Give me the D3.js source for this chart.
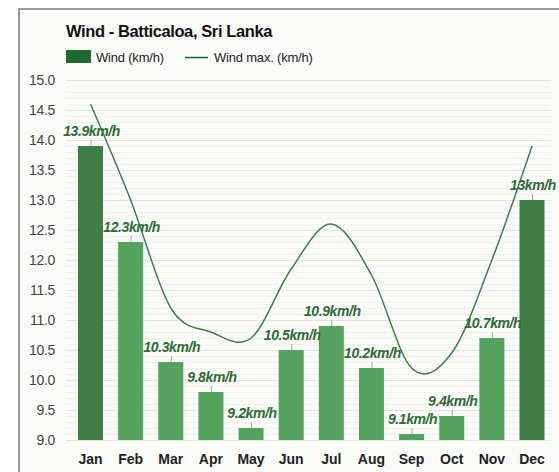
<!DOCTYPE html>
<html><head><meta charset="utf-8">
<script src="https://cdn.jsdelivr.net/npm/d3@7"></script>
<style>body{margin:0;background:#fff}svg{display:block;font-family:"Liberation Sans",Arial,sans-serif}</style>
</head><body>
<svg id="c" width="559" height="472"></svg>
<script>
const months = ["Jan","Feb","Mar","Apr","May","Jun","Jul","Aug","Sep","Oct","Nov","Dec"];
const wind = [13.9,12.3,10.3,9.8,9.2,10.5,10.9,10.2,9.1,9.4,10.7,13];
const windMax = [14.6,13.0,11.2,10.8,10.7,11.85,12.6,11.75,10.2,10.45,12.0,13.9];
const yTicks = [9.0,9.5,10.0,10.5,11.0,11.5,12.0,12.5,13.0,13.5,14.0,14.5,15.0];
const darkMonths = ["Jan","Dec"];

const svg = d3.select("#c");
// frame
svg.append("rect").attr("x",19).attr("y",9).attr("width",560).attr("height",480)
  .attr("fill","#fbfcfa").attr("stroke","#9a9a9a").attr("stroke-width",2);

const y = d3.scaleLinear().domain([9,15]).range([440,80]);
const x = d3.scalePoint().domain(months).range([90.5,532]);
const bw = 25;

// minor grid
const minor = d3.range(9,15.001,0.1);
svg.append("g").selectAll("line").data(minor).join("line")
  .attr("x1",66).attr("x2",551).attr("y1",d=>Math.round(y(d))+0.5).attr("y2",d=>Math.round(y(d))+0.5)
  .attr("stroke","#f1f2f0").attr("stroke-width",1);
// major grid
svg.append("g").selectAll("line").data(yTicks).join("line")
  .attr("x1",66).attr("x2",551).attr("y1",d=>Math.round(y(d))+0.5).attr("y2",d=>Math.round(y(d))+0.5)
  .attr("stroke","#e3e4e2").attr("stroke-width",1);

// y labels
svg.append("g").selectAll("text").data(yTicks).join("text")
  .attr("x",55).attr("y",d=>y(d)+5).attr("text-anchor","end")
  .attr("font-size",14).attr("letter-spacing",-0.3).attr("fill","#444").text(d=>d.toFixed(1));

// bars
svg.append("g").selectAll("rect").data(months).join("rect")
  .attr("x",(d)=>x(d)-bw/2).attr("width",bw)
  .attr("y",(d,i)=>y(wind[i])).attr("height",(d,i)=>y(9)-y(wind[i]))
  .attr("fill",d=>darkMonths.includes(d)?"#3f7f47":"#56a25f");

// label ticks
svg.append("g").selectAll("line").data(months).join("line")
  .attr("x1",d=>x(d)+0.5).attr("x2",d=>x(d)+0.5)
  .attr("y1",(d,i)=>y(wind[i])).attr("y2",(d,i)=>y(wind[i])-6)
  .attr("stroke","#aaa").attr("stroke-width",1);

// line
const line = d3.line().x((d,i)=>x(months[i])).y(d=>y(d)).curve(d3.curveCardinal.tension(0));
svg.append("path").datum(windMax).attr("d",line).attr("fill","none")
  .attr("stroke","#3f7f47").attr("stroke-width",1.5);

// bar labels
svg.append("g").selectAll("text").data(months).join("text")
  .attr("x",d=>x(d)+1).attr("y",(d,i)=>y(wind[i])-10).attr("text-anchor","middle")
  .attr("font-size",14).attr("letter-spacing",-0.4).attr("font-weight","bold").attr("font-style","italic")
  .attr("fill","#2e6b36").text((d,i)=>wind[i]+"km/h");

// x labels
svg.append("g").selectAll("text").data(months).join("text")
  .attr("x",d=>x(d)).attr("y",464).attr("text-anchor","middle")
  .attr("font-size",14).attr("font-weight","bold").attr("fill","#222").text(d=>d);

// title
svg.append("text").attr("x",66).attr("y",37).attr("font-size",16.5).attr("letter-spacing",-0.4).attr("font-weight","bold")
  .attr("fill","#111").text("Wind - Batticaloa, Sri Lanka");
// legend
svg.append("rect").attr("x",66).attr("y",50).attr("width",25).attr("height",13).attr("fill","#1f6b2d");
svg.append("text").attr("x",96).attr("y",62).attr("font-size",13).attr("letter-spacing",-0.2).attr("fill","#222").text("Wind (km/h)");
svg.append("line").attr("x1",185).attr("x2",208).attr("y1",57.5).attr("y2",57.5).attr("stroke","#1f6b2d").attr("stroke-width",1.5);
svg.append("text").attr("x",214).attr("y",62).attr("font-size",13).attr("letter-spacing",-0.2).attr("fill","#222").text("Wind max. (km/h)");
</script>
</body></html>
